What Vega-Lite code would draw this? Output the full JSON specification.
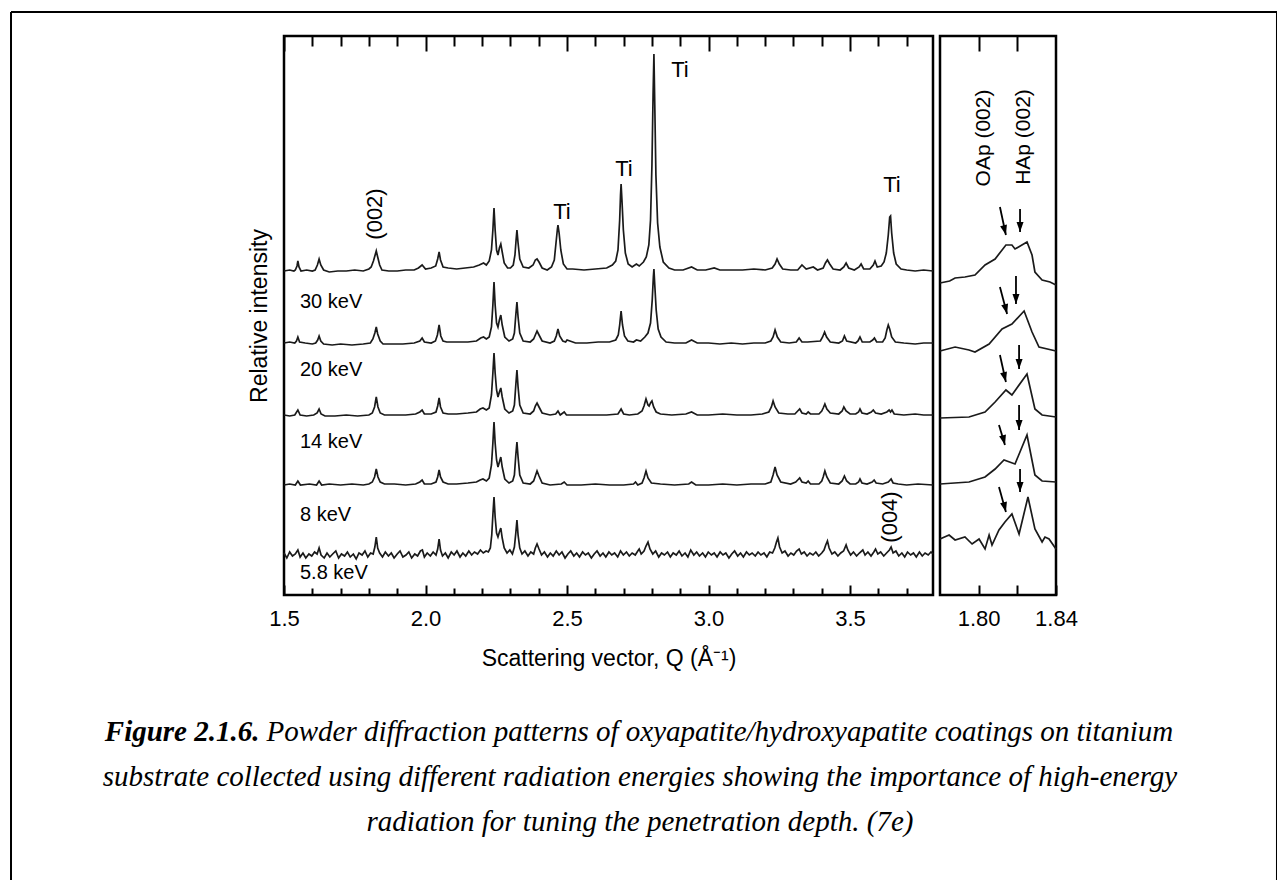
{
"$schema": "https://vega.github.io/schema/vega-lite/v6.json",
"background": "white",
"autosize": {"type": "pad"},
"padding": {"left": 8, "top": 9, "right": 1, "bottom": 0},
"config": {
  "view": {"stroke": "black", "strokeWidth": 2.5},
  "font": "Liberation Sans",
  "text": {"font": "Liberation Sans", "color": "black"}
},
"datasets": {
"L": [
{"s":"30","q":1.5,"i":324},{"s":"30","q":1.52,"i":325},{"s":"30","q":1.535,"i":324},{"s":"30","q":1.54,"i":325},{"s":"30","q":1.546,"i":329},{"s":"30","q":1.549,"i":334},{"s":"30","q":1.553,"i":328},{"s":"30","q":1.56,"i":324},{"s":"30","q":1.58,"i":325},{"s":"30","q":1.6,"i":324},{"s":"30","q":1.61,"i":325},{"s":"30","q":1.618,"i":330},{"s":"30","q":1.624,"i":336},{"s":"30","q":1.63,"i":330},{"s":"30","q":1.64,"i":325},{"s":"30","q":1.66,"i":323},{"s":"30","q":1.69,"i":324},{"s":"30","q":1.72,"i":324},{"s":"30","q":1.75,"i":325},{"s":"30","q":1.78,"i":324},{"s":"30","q":1.8,"i":326},{"s":"30","q":1.808,"i":328},{"s":"30","q":1.816,"i":334},{"s":"30","q":1.822,"i":340},{"s":"30","q":1.826,"i":344},{"s":"30","q":1.831,"i":338},{"s":"30","q":1.838,"i":330},{"s":"30","q":1.846,"i":325},{"s":"30","q":1.87,"i":324},{"s":"30","q":1.9,"i":324},{"s":"30","q":1.93,"i":325},{"s":"30","q":1.96,"i":325},{"s":"30","q":1.975,"i":327},{"s":"30","q":1.988,"i":330},{"s":"30","q":2.0,"i":326},{"s":"30","q":2.02,"i":327},{"s":"30","q":2.036,"i":329},{"s":"30","q":2.043,"i":336},{"s":"30","q":2.048,"i":343},{"s":"30","q":2.053,"i":335},{"s":"30","q":2.062,"i":328},{"s":"30","q":2.08,"i":327},{"s":"30","q":2.11,"i":326},{"s":"30","q":2.14,"i":327},{"s":"30","q":2.17,"i":328},{"s":"30","q":2.19,"i":330},{"s":"30","q":2.205,"i":332},{"s":"30","q":2.215,"i":330},{"s":"30","q":2.225,"i":334},{"s":"30","q":2.233,"i":345},{"s":"30","q":2.238,"i":365},{"s":"30","q":2.242,"i":387},{"s":"30","q":2.246,"i":365},{"s":"30","q":2.251,"i":345},{"s":"30","q":2.256,"i":340},{"s":"30","q":2.261,"i":347},{"s":"30","q":2.266,"i":351},{"s":"30","q":2.271,"i":343},{"s":"30","q":2.278,"i":332},{"s":"30","q":2.29,"i":327},{"s":"30","q":2.3,"i":327},{"s":"30","q":2.31,"i":330},{"s":"30","q":2.316,"i":340},{"s":"30","q":2.32,"i":355},{"s":"30","q":2.323,"i":365},{"s":"30","q":2.327,"i":352},{"s":"30","q":2.333,"i":336},{"s":"30","q":2.345,"i":328},{"s":"30","q":2.365,"i":327},{"s":"30","q":2.38,"i":330},{"s":"30","q":2.388,"i":335},{"s":"30","q":2.394,"i":336},{"s":"30","q":2.401,"i":333},{"s":"30","q":2.412,"i":327},{"s":"30","q":2.43,"i":325},{"s":"30","q":2.445,"i":328},{"s":"30","q":2.455,"i":335},{"s":"30","q":2.461,"i":352},{"s":"30","q":2.466,"i":366},{"s":"30","q":2.468,"i":370},{"s":"30","q":2.472,"i":362},{"s":"30","q":2.478,"i":345},{"s":"30","q":2.487,"i":331},{"s":"30","q":2.5,"i":326},{"s":"30","q":2.52,"i":326},{"s":"30","q":2.56,"i":325},{"s":"30","q":2.6,"i":326},{"s":"30","q":2.64,"i":327},{"s":"30","q":2.66,"i":330},{"s":"30","q":2.672,"i":334},{"s":"30","q":2.68,"i":345},{"s":"30","q":2.686,"i":375},{"s":"30","q":2.689,"i":400},{"s":"30","q":2.691,"i":411},{"s":"30","q":2.694,"i":395},{"s":"30","q":2.699,"i":365},{"s":"30","q":2.706,"i":342},{"s":"30","q":2.716,"i":331},{"s":"30","q":2.73,"i":328},{"s":"30","q":2.745,"i":331},{"s":"30","q":2.755,"i":329},{"s":"30","q":2.77,"i":333},{"s":"30","q":2.78,"i":338},{"s":"30","q":2.789,"i":350},{"s":"30","q":2.795,"i":375},{"s":"30","q":2.8,"i":430},{"s":"30","q":2.804,"i":500},{"s":"30","q":2.807,"i":541},{"s":"30","q":2.81,"i":490},{"s":"30","q":2.814,"i":420},{"s":"30","q":2.82,"i":372},{"s":"30","q":2.828,"i":348},{"s":"30","q":2.84,"i":333},{"s":"30","q":2.86,"i":327},{"s":"30","q":2.88,"i":325},{"s":"30","q":2.91,"i":325},{"s":"30","q":2.94,"i":328},{"s":"30","q":2.96,"i":325},{"s":"30","q":2.99,"i":325},{"s":"30","q":3.02,"i":327},{"s":"30","q":3.04,"i":325},{"s":"30","q":3.08,"i":325},{"s":"30","q":3.12,"i":325},{"s":"30","q":3.16,"i":326},{"s":"30","q":3.2,"i":325},{"s":"30","q":3.225,"i":327},{"s":"30","q":3.235,"i":331},{"s":"30","q":3.242,"i":336},{"s":"30","q":3.25,"i":331},{"s":"30","q":3.262,"i":326},{"s":"30","q":3.29,"i":325},{"s":"30","q":3.315,"i":325},{"s":"30","q":3.33,"i":330},{"s":"30","q":3.345,"i":326},{"s":"30","q":3.37,"i":328},{"s":"30","q":3.385,"i":325},{"s":"30","q":3.405,"i":327},{"s":"30","q":3.413,"i":332},{"s":"30","q":3.42,"i":335},{"s":"30","q":3.428,"i":331},{"s":"30","q":3.44,"i":326},{"s":"30","q":3.465,"i":325},{"s":"30","q":3.478,"i":328},{"s":"30","q":3.486,"i":332},{"s":"30","q":3.495,"i":327},{"s":"30","q":3.515,"i":325},{"s":"30","q":3.532,"i":328},{"s":"30","q":3.539,"i":331},{"s":"30","q":3.548,"i":326},{"s":"30","q":3.57,"i":326},{"s":"30","q":3.582,"i":330},{"s":"30","q":3.588,"i":334},{"s":"30","q":3.596,"i":328},{"s":"30","q":3.61,"i":329},{"s":"30","q":3.62,"i":333},{"s":"30","q":3.628,"i":342},{"s":"30","q":3.635,"i":360},{"s":"30","q":3.64,"i":378},{"s":"30","q":3.643,"i":379},{"s":"30","q":3.647,"i":362},{"s":"30","q":3.654,"i":342},{"s":"30","q":3.663,"i":331},{"s":"30","q":3.68,"i":326},{"s":"30","q":3.7,"i":325},{"s":"30","q":3.73,"i":324},{"s":"30","q":3.76,"i":325},{"s":"30","q":3.793,"i":324},
{"s":"20","q":1.5,"i":252},{"s":"20","q":1.52,"i":253},{"s":"20","q":1.538,"i":252},{"s":"20","q":1.544,"i":254},{"s":"20","q":1.549,"i":258},{"s":"20","q":1.555,"i":253},{"s":"20","q":1.575,"i":252},{"s":"20","q":1.6,"i":251},{"s":"20","q":1.612,"i":252},{"s":"20","q":1.619,"i":255},{"s":"20","q":1.624,"i":259},{"s":"20","q":1.63,"i":254},{"s":"20","q":1.64,"i":251},{"s":"20","q":1.67,"i":250},{"s":"20","q":1.7,"i":251},{"s":"20","q":1.74,"i":250},{"s":"20","q":1.78,"i":251},{"s":"20","q":1.805,"i":252},{"s":"20","q":1.814,"i":256},{"s":"20","q":1.821,"i":262},{"s":"20","q":1.826,"i":268},{"s":"20","q":1.831,"i":261},{"s":"20","q":1.84,"i":254},{"s":"20","q":1.85,"i":251},{"s":"20","q":1.88,"i":251},{"s":"20","q":1.92,"i":251},{"s":"20","q":1.96,"i":252},{"s":"20","q":1.98,"i":254},{"s":"20","q":1.988,"i":257},{"s":"20","q":1.996,"i":253},{"s":"20","q":2.02,"i":252},{"s":"20","q":2.035,"i":254},{"s":"20","q":2.042,"i":260},{"s":"20","q":2.048,"i":270},{"s":"20","q":2.054,"i":259},{"s":"20","q":2.062,"i":254},{"s":"20","q":2.075,"i":253},{"s":"20","q":2.11,"i":253},{"s":"20","q":2.15,"i":253},{"s":"20","q":2.18,"i":254},{"s":"20","q":2.195,"i":257},{"s":"20","q":2.205,"i":258},{"s":"20","q":2.215,"i":256},{"s":"20","q":2.225,"i":258},{"s":"20","q":2.233,"i":268},{"s":"20","q":2.238,"i":290},{"s":"20","q":2.242,"i":313},{"s":"20","q":2.246,"i":290},{"s":"20","q":2.251,"i":272},{"s":"20","q":2.256,"i":268},{"s":"20","q":2.261,"i":275},{"s":"20","q":2.266,"i":280},{"s":"20","q":2.271,"i":270},{"s":"20","q":2.28,"i":258},{"s":"20","q":2.295,"i":254},{"s":"20","q":2.308,"i":256},{"s":"20","q":2.314,"i":262},{"s":"20","q":2.319,"i":280},{"s":"20","q":2.323,"i":293},{"s":"20","q":2.327,"i":278},{"s":"20","q":2.333,"i":262},{"s":"20","q":2.345,"i":254},{"s":"20","q":2.37,"i":253},{"s":"20","q":2.382,"i":256},{"s":"20","q":2.388,"i":260},{"s":"20","q":2.394,"i":264},{"s":"20","q":2.401,"i":260},{"s":"20","q":2.412,"i":254},{"s":"20","q":2.44,"i":252},{"s":"20","q":2.455,"i":254},{"s":"20","q":2.462,"i":259},{"s":"20","q":2.468,"i":266},{"s":"20","q":2.474,"i":259},{"s":"20","q":2.485,"i":254},{"s":"20","q":2.495,"i":253},{"s":"20","q":2.5,"i":255},{"s":"20","q":2.53,"i":252},{"s":"20","q":2.57,"i":252},{"s":"20","q":2.61,"i":253},{"s":"20","q":2.65,"i":253},{"s":"20","q":2.672,"i":255},{"s":"20","q":2.681,"i":260},{"s":"20","q":2.686,"i":270},{"s":"20","q":2.691,"i":284},{"s":"20","q":2.696,"i":270},{"s":"20","q":2.703,"i":259},{"s":"20","q":2.715,"i":254},{"s":"20","q":2.735,"i":253},{"s":"20","q":2.745,"i":255},{"s":"20","q":2.76,"i":254},{"s":"20","q":2.775,"i":258},{"s":"20","q":2.786,"i":262},{"s":"20","q":2.795,"i":272},{"s":"20","q":2.801,"i":295},{"s":"20","q":2.805,"i":318},{"s":"20","q":2.807,"i":326},{"s":"20","q":2.81,"i":310},{"s":"20","q":2.815,"i":285},{"s":"20","q":2.822,"i":266},{"s":"20","q":2.832,"i":258},{"s":"20","q":2.85,"i":253},{"s":"20","q":2.88,"i":252},{"s":"20","q":2.92,"i":252},{"s":"20","q":2.94,"i":255},{"s":"20","q":2.96,"i":252},{"s":"20","q":3.0,"i":252},{"s":"20","q":3.04,"i":251},{"s":"20","q":3.08,"i":252},{"s":"20","q":3.12,"i":251},{"s":"20","q":3.16,"i":252},{"s":"20","q":3.2,"i":252},{"s":"20","q":3.22,"i":254},{"s":"20","q":3.228,"i":258},{"s":"20","q":3.235,"i":265},{"s":"20","q":3.243,"i":258},{"s":"20","q":3.255,"i":253},{"s":"20","q":3.285,"i":252},{"s":"20","q":3.31,"i":253},{"s":"20","q":3.32,"i":257},{"s":"20","q":3.33,"i":253},{"s":"20","q":3.35,"i":253},{"s":"20","q":3.395,"i":254},{"s":"20","q":3.403,"i":258},{"s":"20","q":3.41,"i":263},{"s":"20","q":3.417,"i":258},{"s":"20","q":3.43,"i":253},{"s":"20","q":3.46,"i":252},{"s":"20","q":3.473,"i":254},{"s":"20","q":3.48,"i":259},{"s":"20","q":3.488,"i":254},{"s":"20","q":3.52,"i":252},{"s":"20","q":3.528,"i":254},{"s":"20","q":3.535,"i":258},{"s":"20","q":3.543,"i":253},{"s":"20","q":3.57,"i":253},{"s":"20","q":3.58,"i":255},{"s":"20","q":3.586,"i":257},{"s":"20","q":3.594,"i":253},{"s":"20","q":3.615,"i":253},{"s":"20","q":3.624,"i":257},{"s":"20","q":3.63,"i":265},{"s":"20","q":3.635,"i":270},{"s":"20","q":3.64,"i":266},{"s":"20","q":3.647,"i":258},{"s":"20","q":3.66,"i":253},{"s":"20","q":3.69,"i":252},{"s":"20","q":3.73,"i":251},{"s":"20","q":3.76,"i":252},{"s":"20","q":3.793,"i":252},
{"s":"14","q":1.5,"i":180},{"s":"14","q":1.52,"i":179},{"s":"14","q":1.538,"i":180},{"s":"14","q":1.549,"i":185},{"s":"14","q":1.557,"i":180},{"s":"14","q":1.58,"i":179},{"s":"14","q":1.605,"i":180},{"s":"14","q":1.617,"i":182},{"s":"14","q":1.624,"i":186},{"s":"14","q":1.631,"i":181},{"s":"14","q":1.645,"i":179},{"s":"14","q":1.68,"i":179},{"s":"14","q":1.72,"i":180},{"s":"14","q":1.76,"i":179},{"s":"14","q":1.8,"i":180},{"s":"14","q":1.812,"i":182},{"s":"14","q":1.82,"i":188},{"s":"14","q":1.826,"i":198},{"s":"14","q":1.832,"i":188},{"s":"14","q":1.84,"i":182},{"s":"14","q":1.855,"i":180},{"s":"14","q":1.89,"i":180},{"s":"14","q":1.93,"i":180},{"s":"14","q":1.965,"i":181},{"s":"14","q":1.98,"i":183},{"s":"14","q":1.988,"i":185},{"s":"14","q":1.996,"i":181},{"s":"14","q":2.02,"i":181},{"s":"14","q":2.037,"i":183},{"s":"14","q":2.043,"i":189},{"s":"14","q":2.048,"i":197},{"s":"14","q":2.053,"i":188},{"s":"14","q":2.062,"i":182},{"s":"14","q":2.08,"i":181},{"s":"14","q":2.11,"i":181},{"s":"14","q":2.15,"i":182},{"s":"14","q":2.18,"i":183},{"s":"14","q":2.193,"i":186},{"s":"14","q":2.203,"i":187},{"s":"14","q":2.215,"i":185},{"s":"14","q":2.225,"i":187},{"s":"14","q":2.233,"i":200},{"s":"14","q":2.238,"i":222},{"s":"14","q":2.242,"i":242},{"s":"14","q":2.246,"i":222},{"s":"14","q":2.251,"i":205},{"s":"14","q":2.256,"i":198},{"s":"14","q":2.261,"i":203},{"s":"14","q":2.266,"i":207},{"s":"14","q":2.271,"i":198},{"s":"14","q":2.28,"i":186},{"s":"14","q":2.295,"i":182},{"s":"14","q":2.308,"i":184},{"s":"14","q":2.314,"i":190},{"s":"14","q":2.319,"i":210},{"s":"14","q":2.323,"i":225},{"s":"14","q":2.327,"i":208},{"s":"14","q":2.333,"i":190},{"s":"14","q":2.345,"i":182},{"s":"14","q":2.37,"i":181},{"s":"14","q":2.382,"i":184},{"s":"14","q":2.388,"i":189},{"s":"14","q":2.394,"i":192},{"s":"14","q":2.401,"i":188},{"s":"14","q":2.412,"i":182},{"s":"14","q":2.44,"i":180},{"s":"14","q":2.46,"i":181},{"s":"14","q":2.468,"i":184},{"s":"14","q":2.476,"i":180},{"s":"14","q":2.49,"i":183},{"s":"14","q":2.498,"i":180},{"s":"14","q":2.54,"i":180},{"s":"14","q":2.59,"i":180},{"s":"14","q":2.64,"i":180},{"s":"14","q":2.68,"i":181},{"s":"14","q":2.691,"i":186},{"s":"14","q":2.7,"i":181},{"s":"14","q":2.72,"i":180},{"s":"14","q":2.75,"i":181},{"s":"14","q":2.765,"i":184},{"s":"14","q":2.772,"i":189},{"s":"14","q":2.779,"i":196},{"s":"14","q":2.786,"i":190},{"s":"14","q":2.79,"i":189},{"s":"14","q":2.795,"i":192},{"s":"14","q":2.8,"i":194},{"s":"14","q":2.806,"i":188},{"s":"14","q":2.815,"i":183},{"s":"14","q":2.83,"i":181},{"s":"14","q":2.87,"i":180},{"s":"14","q":2.92,"i":181},{"s":"14","q":2.94,"i":183},{"s":"14","q":2.96,"i":180},{"s":"14","q":3.0,"i":180},{"s":"14","q":3.05,"i":181},{"s":"14","q":3.1,"i":180},{"s":"14","q":3.15,"i":180},{"s":"14","q":3.19,"i":181},{"s":"14","q":3.213,"i":183},{"s":"14","q":3.222,"i":188},{"s":"14","q":3.228,"i":194},{"s":"14","q":3.235,"i":188},{"s":"14","q":3.248,"i":182},{"s":"14","q":3.28,"i":181},{"s":"14","q":3.305,"i":181},{"s":"14","q":3.315,"i":184},{"s":"14","q":3.322,"i":186},{"s":"14","q":3.33,"i":182},{"s":"14","q":3.345,"i":181},{"s":"14","q":3.352,"i":183},{"s":"14","q":3.36,"i":181},{"s":"14","q":3.39,"i":181},{"s":"14","q":3.4,"i":184},{"s":"14","q":3.405,"i":187},{"s":"14","q":3.411,"i":191},{"s":"14","q":3.418,"i":186},{"s":"14","q":3.43,"i":182},{"s":"14","q":3.46,"i":181},{"s":"14","q":3.472,"i":184},{"s":"14","q":3.478,"i":188},{"s":"14","q":3.486,"i":184},{"s":"14","q":3.5,"i":181},{"s":"14","q":3.52,"i":181},{"s":"14","q":3.53,"i":183},{"s":"14","q":3.535,"i":186},{"s":"14","q":3.542,"i":182},{"s":"14","q":3.56,"i":181},{"s":"14","q":3.575,"i":183},{"s":"14","q":3.582,"i":185},{"s":"14","q":3.59,"i":182},{"s":"14","q":3.61,"i":181},{"s":"14","q":3.63,"i":183},{"s":"14","q":3.638,"i":185},{"s":"14","q":3.643,"i":183},{"s":"14","q":3.648,"i":185},{"s":"14","q":3.656,"i":181},{"s":"14","q":3.69,"i":180},{"s":"14","q":3.73,"i":181},{"s":"14","q":3.76,"i":180},{"s":"14","q":3.793,"i":180},
{"s":"8","q":1.5,"i":110},{"s":"8","q":1.52,"i":111},{"s":"8","q":1.54,"i":110},{"s":"8","q":1.549,"i":114},{"s":"8","q":1.558,"i":110},{"s":"8","q":1.59,"i":111},{"s":"8","q":1.615,"i":110},{"s":"8","q":1.624,"i":114},{"s":"8","q":1.633,"i":110},{"s":"8","q":1.66,"i":111},{"s":"8","q":1.7,"i":110},{"s":"8","q":1.74,"i":111},{"s":"8","q":1.78,"i":110},{"s":"8","q":1.8,"i":111},{"s":"8","q":1.812,"i":113},{"s":"8","q":1.82,"i":118},{"s":"8","q":1.826,"i":126},{"s":"8","q":1.832,"i":118},{"s":"8","q":1.84,"i":113},{"s":"8","q":1.855,"i":111},{"s":"8","q":1.89,"i":111},{"s":"8","q":1.93,"i":110},{"s":"8","q":1.965,"i":111},{"s":"8","q":1.98,"i":113},{"s":"8","q":1.988,"i":115},{"s":"8","q":1.996,"i":111},{"s":"8","q":2.02,"i":111},{"s":"8","q":2.037,"i":113},{"s":"8","q":2.043,"i":118},{"s":"8","q":2.048,"i":125},{"s":"8","q":2.053,"i":118},{"s":"8","q":2.062,"i":113},{"s":"8","q":2.08,"i":111},{"s":"8","q":2.11,"i":111},{"s":"8","q":2.15,"i":112},{"s":"8","q":2.18,"i":113},{"s":"8","q":2.193,"i":115},{"s":"8","q":2.203,"i":116},{"s":"8","q":2.215,"i":114},{"s":"8","q":2.225,"i":117},{"s":"8","q":2.233,"i":130},{"s":"8","q":2.238,"i":152},{"s":"8","q":2.242,"i":173},{"s":"8","q":2.246,"i":152},{"s":"8","q":2.251,"i":135},{"s":"8","q":2.256,"i":128},{"s":"8","q":2.261,"i":133},{"s":"8","q":2.266,"i":138},{"s":"8","q":2.271,"i":128},{"s":"8","q":2.28,"i":116},{"s":"8","q":2.295,"i":112},{"s":"8","q":2.308,"i":114},{"s":"8","q":2.314,"i":120},{"s":"8","q":2.319,"i":140},{"s":"8","q":2.323,"i":153},{"s":"8","q":2.327,"i":138},{"s":"8","q":2.333,"i":120},{"s":"8","q":2.345,"i":112},{"s":"8","q":2.37,"i":111},{"s":"8","q":2.382,"i":114},{"s":"8","q":2.388,"i":119},{"s":"8","q":2.394,"i":124},{"s":"8","q":2.401,"i":119},{"s":"8","q":2.412,"i":112},{"s":"8","q":2.44,"i":110},{"s":"8","q":2.48,"i":111},{"s":"8","q":2.49,"i":113},{"s":"8","q":2.5,"i":110},{"s":"8","q":2.55,"i":110},{"s":"8","q":2.6,"i":111},{"s":"8","q":2.65,"i":110},{"s":"8","q":2.7,"i":110},{"s":"8","q":2.735,"i":111},{"s":"8","q":2.742,"i":113},{"s":"8","q":2.75,"i":110},{"s":"8","q":2.765,"i":112},{"s":"8","q":2.772,"i":117},{"s":"8","q":2.779,"i":124},{"s":"8","q":2.786,"i":117},{"s":"8","q":2.798,"i":112},{"s":"8","q":2.83,"i":111},{"s":"8","q":2.88,"i":110},{"s":"8","q":2.93,"i":111},{"s":"8","q":2.94,"i":113},{"s":"8","q":2.955,"i":110},{"s":"8","q":3.0,"i":110},{"s":"8","q":3.05,"i":111},{"s":"8","q":3.1,"i":110},{"s":"8","q":3.15,"i":111},{"s":"8","q":3.2,"i":111},{"s":"8","q":3.22,"i":113},{"s":"8","q":3.228,"i":120},{"s":"8","q":3.235,"i":128},{"s":"8","q":3.242,"i":120},{"s":"8","q":3.255,"i":113},{"s":"8","q":3.29,"i":111},{"s":"8","q":3.308,"i":113},{"s":"8","q":3.315,"i":115},{"s":"8","q":3.322,"i":117},{"s":"8","q":3.33,"i":113},{"s":"8","q":3.345,"i":112},{"s":"8","q":3.352,"i":114},{"s":"8","q":3.36,"i":111},{"s":"8","q":3.39,"i":111},{"s":"8","q":3.4,"i":114},{"s":"8","q":3.405,"i":118},{"s":"8","q":3.411,"i":124},{"s":"8","q":3.418,"i":118},{"s":"8","q":3.43,"i":112},{"s":"8","q":3.46,"i":111},{"s":"8","q":3.472,"i":114},{"s":"8","q":3.48,"i":119},{"s":"8","q":3.488,"i":114},{"s":"8","q":3.5,"i":111},{"s":"8","q":3.52,"i":111},{"s":"8","q":3.53,"i":113},{"s":"8","q":3.535,"i":116},{"s":"8","q":3.542,"i":112},{"s":"8","q":3.56,"i":111},{"s":"8","q":3.578,"i":113},{"s":"8","q":3.585,"i":115},{"s":"8","q":3.592,"i":112},{"s":"8","q":3.615,"i":111},{"s":"8","q":3.635,"i":113},{"s":"8","q":3.645,"i":116},{"s":"8","q":3.652,"i":112},{"s":"8","q":3.67,"i":111},{"s":"8","q":3.7,"i":110},{"s":"8","q":3.74,"i":111},{"s":"8","q":3.793,"i":110},
{"s":"5.8","q":1.5,"i":42},{"s":"5.8","q":1.51,"i":37},{"s":"5.8","q":1.52,"i":43},{"s":"5.8","q":1.53,"i":39},{"s":"5.8","q":1.54,"i":41},{"s":"5.8","q":1.549,"i":45},{"s":"5.8","q":1.557,"i":38},{"s":"5.8","q":1.567,"i":42},{"s":"5.8","q":1.577,"i":37},{"s":"5.8","q":1.588,"i":41},{"s":"5.8","q":1.598,"i":39},{"s":"5.8","q":1.608,"i":43},{"s":"5.8","q":1.617,"i":41},{"s":"5.8","q":1.624,"i":47},{"s":"5.8","q":1.631,"i":40},{"s":"5.8","q":1.642,"i":37},{"s":"5.8","q":1.652,"i":42},{"s":"5.8","q":1.662,"i":38},{"s":"5.8","q":1.672,"i":41},{"s":"5.8","q":1.683,"i":44},{"s":"5.8","q":1.693,"i":37},{"s":"5.8","q":1.703,"i":41},{"s":"5.8","q":1.714,"i":39},{"s":"5.8","q":1.724,"i":43},{"s":"5.8","q":1.734,"i":38},{"s":"5.8","q":1.745,"i":41},{"s":"5.8","q":1.755,"i":36},{"s":"5.8","q":1.765,"i":42},{"s":"5.8","q":1.776,"i":40},{"s":"5.8","q":1.786,"i":44},{"s":"5.8","q":1.796,"i":38},{"s":"5.8","q":1.806,"i":42},{"s":"5.8","q":1.815,"i":41},{"s":"5.8","q":1.821,"i":48},{"s":"5.8","q":1.826,"i":58},{"s":"5.8","q":1.831,"i":47},{"s":"5.8","q":1.838,"i":42},{"s":"5.8","q":1.848,"i":38},{"s":"5.8","q":1.858,"i":43},{"s":"5.8","q":1.869,"i":39},{"s":"5.8","q":1.879,"i":42},{"s":"5.8","q":1.889,"i":37},{"s":"5.8","q":1.9,"i":41},{"s":"5.8","q":1.91,"i":44},{"s":"5.8","q":1.92,"i":38},{"s":"5.8","q":1.931,"i":40},{"s":"5.8","q":1.941,"i":43},{"s":"5.8","q":1.951,"i":37},{"s":"5.8","q":1.962,"i":41},{"s":"5.8","q":1.972,"i":39},{"s":"5.8","q":1.982,"i":44},{"s":"5.8","q":1.989,"i":45},{"s":"5.8","q":1.996,"i":38},{"s":"5.8","q":2.006,"i":42},{"s":"5.8","q":2.017,"i":39},{"s":"5.8","q":2.027,"i":43},{"s":"5.8","q":2.037,"i":40},{"s":"5.8","q":2.043,"i":46},{"s":"5.8","q":2.048,"i":56},{"s":"5.8","q":2.053,"i":45},{"s":"5.8","q":2.06,"i":39},{"s":"5.8","q":2.07,"i":42},{"s":"5.8","q":2.08,"i":37},{"s":"5.8","q":2.091,"i":43},{"s":"5.8","q":2.101,"i":40},{"s":"5.8","q":2.111,"i":44},{"s":"5.8","q":2.122,"i":38},{"s":"5.8","q":2.132,"i":42},{"s":"5.8","q":2.142,"i":39},{"s":"5.8","q":2.153,"i":44},{"s":"5.8","q":2.163,"i":40},{"s":"5.8","q":2.173,"i":43},{"s":"5.8","q":2.184,"i":41},{"s":"5.8","q":2.194,"i":45},{"s":"5.8","q":2.204,"i":42},{"s":"5.8","q":2.214,"i":44},{"s":"5.8","q":2.222,"i":43},{"s":"5.8","q":2.229,"i":47},{"s":"5.8","q":2.234,"i":60},{"s":"5.8","q":2.238,"i":80},{"s":"5.8","q":2.242,"i":98},{"s":"5.8","q":2.246,"i":78},{"s":"5.8","q":2.251,"i":62},{"s":"5.8","q":2.256,"i":58},{"s":"5.8","q":2.261,"i":63},{"s":"5.8","q":2.266,"i":67},{"s":"5.8","q":2.271,"i":57},{"s":"5.8","q":2.278,"i":47},{"s":"5.8","q":2.288,"i":42},{"s":"5.8","q":2.298,"i":45},{"s":"5.8","q":2.307,"i":41},{"s":"5.8","q":2.314,"i":48},{"s":"5.8","q":2.319,"i":62},{"s":"5.8","q":2.323,"i":75},{"s":"5.8","q":2.327,"i":60},{"s":"5.8","q":2.333,"i":47},{"s":"5.8","q":2.341,"i":41},{"s":"5.8","q":2.351,"i":44},{"s":"5.8","q":2.362,"i":39},{"s":"5.8","q":2.372,"i":43},{"s":"5.8","q":2.382,"i":41},{"s":"5.8","q":2.388,"i":47},{"s":"5.8","q":2.394,"i":51},{"s":"5.8","q":2.401,"i":46},{"s":"5.8","q":2.41,"i":40},{"s":"5.8","q":2.42,"i":43},{"s":"5.8","q":2.431,"i":38},{"s":"5.8","q":2.441,"i":42},{"s":"5.8","q":2.451,"i":39},{"s":"5.8","q":2.462,"i":44},{"s":"5.8","q":2.472,"i":40},{"s":"5.8","q":2.482,"i":43},{"s":"5.8","q":2.493,"i":37},{"s":"5.8","q":2.503,"i":41},{"s":"5.8","q":2.513,"i":44},{"s":"5.8","q":2.524,"i":39},{"s":"5.8","q":2.534,"i":42},{"s":"5.8","q":2.544,"i":38},{"s":"5.8","q":2.555,"i":43},{"s":"5.8","q":2.565,"i":40},{"s":"5.8","q":2.575,"i":42},{"s":"5.8","q":2.586,"i":37},{"s":"5.8","q":2.596,"i":41},{"s":"5.8","q":2.606,"i":44},{"s":"5.8","q":2.617,"i":39},{"s":"5.8","q":2.627,"i":42},{"s":"5.8","q":2.637,"i":38},{"s":"5.8","q":2.648,"i":43},{"s":"5.8","q":2.658,"i":40},{"s":"5.8","q":2.668,"i":42},{"s":"5.8","q":2.679,"i":38},{"s":"5.8","q":2.689,"i":44},{"s":"5.8","q":2.699,"i":40},{"s":"5.8","q":2.71,"i":43},{"s":"5.8","q":2.72,"i":39},{"s":"5.8","q":2.73,"i":42},{"s":"5.8","q":2.741,"i":40},{"s":"5.8","q":2.75,"i":44},{"s":"5.8","q":2.755,"i":46},{"s":"5.8","q":2.762,"i":41},{"s":"5.8","q":2.772,"i":44},{"s":"5.8","q":2.779,"i":49},{"s":"5.8","q":2.786,"i":53},{"s":"5.8","q":2.793,"i":46},{"s":"5.8","q":2.803,"i":41},{"s":"5.8","q":2.813,"i":44},{"s":"5.8","q":2.824,"i":38},{"s":"5.8","q":2.834,"i":42},{"s":"5.8","q":2.844,"i":40},{"s":"5.8","q":2.855,"i":43},{"s":"5.8","q":2.865,"i":38},{"s":"5.8","q":2.875,"i":42},{"s":"5.8","q":2.886,"i":40},{"s":"5.8","q":2.896,"i":44},{"s":"5.8","q":2.906,"i":39},{"s":"5.8","q":2.917,"i":42},{"s":"5.8","q":2.927,"i":38},{"s":"5.8","q":2.937,"i":45},{"s":"5.8","q":2.948,"i":40},{"s":"5.8","q":2.958,"i":43},{"s":"5.8","q":2.968,"i":39},{"s":"5.8","q":2.979,"i":42},{"s":"5.8","q":2.989,"i":38},{"s":"5.8","q":2.999,"i":43},{"s":"5.8","q":3.01,"i":40},{"s":"5.8","q":3.02,"i":42},{"s":"5.8","q":3.03,"i":38},{"s":"5.8","q":3.041,"i":43},{"s":"5.8","q":3.051,"i":40},{"s":"5.8","q":3.061,"i":42},{"s":"5.8","q":3.072,"i":37},{"s":"5.8","q":3.082,"i":41},{"s":"5.8","q":3.092,"i":44},{"s":"5.8","q":3.103,"i":39},{"s":"5.8","q":3.113,"i":42},{"s":"5.8","q":3.123,"i":38},{"s":"5.8","q":3.134,"i":43},{"s":"5.8","q":3.144,"i":40},{"s":"5.8","q":3.154,"i":42},{"s":"5.8","q":3.165,"i":39},{"s":"5.8","q":3.175,"i":43},{"s":"5.8","q":3.185,"i":40},{"s":"5.8","q":3.196,"i":42},{"s":"5.8","q":3.206,"i":38},{"s":"5.8","q":3.216,"i":43},{"s":"5.8","q":3.226,"i":42},{"s":"5.8","q":3.234,"i":47},{"s":"5.8","q":3.24,"i":53},{"s":"5.8","q":3.245,"i":57},{"s":"5.8","q":3.251,"i":48},{"s":"5.8","q":3.26,"i":42},{"s":"5.8","q":3.27,"i":44},{"s":"5.8","q":3.281,"i":39},{"s":"5.8","q":3.291,"i":42},{"s":"5.8","q":3.301,"i":40},{"s":"5.8","q":3.311,"i":44},{"s":"5.8","q":3.32,"i":46},{"s":"5.8","q":3.328,"i":41},{"s":"5.8","q":3.338,"i":43},{"s":"5.8","q":3.348,"i":39},{"s":"5.8","q":3.358,"i":42},{"s":"5.8","q":3.369,"i":40},{"s":"5.8","q":3.379,"i":43},{"s":"5.8","q":3.389,"i":39},{"s":"5.8","q":3.4,"i":42},{"s":"5.8","q":3.408,"i":45},{"s":"5.8","q":3.414,"i":50},{"s":"5.8","q":3.42,"i":54},{"s":"5.8","q":3.426,"i":47},{"s":"5.8","q":3.436,"i":41},{"s":"5.8","q":3.446,"i":43},{"s":"5.8","q":3.457,"i":39},{"s":"5.8","q":3.467,"i":42},{"s":"5.8","q":3.477,"i":44},{"s":"5.8","q":3.486,"i":50},{"s":"5.8","q":3.492,"i":45},{"s":"5.8","q":3.502,"i":40},{"s":"5.8","q":3.512,"i":43},{"s":"5.8","q":3.523,"i":39},{"s":"5.8","q":3.533,"i":42},{"s":"5.8","q":3.545,"i":45},{"s":"5.8","q":3.553,"i":40},{"s":"5.8","q":3.563,"i":43},{"s":"5.8","q":3.574,"i":39},{"s":"5.8","q":3.584,"i":43},{"s":"5.8","q":3.59,"i":46},{"s":"5.8","q":3.598,"i":41},{"s":"5.8","q":3.608,"i":43},{"s":"5.8","q":3.619,"i":39},{"s":"5.8","q":3.629,"i":42},{"s":"5.8","q":3.639,"i":45},{"s":"5.8","q":3.645,"i":48},{"s":"5.8","q":3.652,"i":42},{"s":"5.8","q":3.662,"i":44},{"s":"5.8","q":3.672,"i":39},{"s":"5.8","q":3.683,"i":42},{"s":"5.8","q":3.693,"i":38},{"s":"5.8","q":3.703,"i":43},{"s":"5.8","q":3.714,"i":40},{"s":"5.8","q":3.724,"i":42},{"s":"5.8","q":3.734,"i":38},{"s":"5.8","q":3.745,"i":43},{"s":"5.8","q":3.755,"i":39},{"s":"5.8","q":3.765,"i":42},{"s":"5.8","q":3.776,"i":40},{"s":"5.8","q":3.786,"i":43},{"s":"5.8","q":3.793,"i":41}
],
"R": [
{"s":"30","q":1.78,"i":312},{"s":"30","q":1.785,"i":314},{"s":"30","q":1.7878,"i":317},{"s":"30","q":1.7929,"i":318},{"s":"30","q":1.7981,"i":320},{"s":"30","q":1.8033,"i":330},{"s":"30","q":1.8085,"i":336},{"s":"30","q":1.8141,"i":350},{"s":"30","q":1.8172,"i":350},{"s":"30","q":1.8188,"i":346},{"s":"30","q":1.825,"i":353},{"s":"30","q":1.8276,"i":340},{"s":"30","q":1.8291,"i":323},{"s":"30","q":1.8328,"i":315},{"s":"30","q":1.8369,"i":313},{"s":"30","q":1.84,"i":310},
{"s":"20","q":1.78,"i":244},{"s":"20","q":1.7878,"i":248},{"s":"20","q":1.795,"i":245},{"s":"20","q":1.7981,"i":243},{"s":"20","q":1.8054,"i":251},{"s":"20","q":1.8121,"i":266},{"s":"20","q":1.8172,"i":271},{"s":"20","q":1.8235,"i":284},{"s":"20","q":1.8276,"i":263},{"s":"20","q":1.8312,"i":248},{"s":"20","q":1.84,"i":244},
{"s":"14","q":1.78,"i":177},{"s":"14","q":1.795,"i":178},{"s":"14","q":1.8033,"i":183},{"s":"14","q":1.8085,"i":193},{"s":"14","q":1.8141,"i":205},{"s":"14","q":1.8172,"i":200},{"s":"14","q":1.825,"i":221},{"s":"14","q":1.8291,"i":186},{"s":"14","q":1.8328,"i":180},{"s":"14","q":1.84,"i":178},
{"s":"8","q":1.78,"i":111},{"s":"8","q":1.795,"i":113},{"s":"8","q":1.8033,"i":118},{"s":"8","q":1.8085,"i":126},{"s":"8","q":1.8131,"i":135},{"s":"8","q":1.8188,"i":131},{"s":"8","q":1.825,"i":160},{"s":"8","q":1.8291,"i":120},{"s":"8","q":1.8328,"i":114},{"s":"8","q":1.84,"i":113},
{"s":"5.8","q":1.78,"i":56},{"s":"5.8","q":1.7847,"i":60},{"s":"5.8","q":1.7878,"i":55},{"s":"5.8","q":1.7929,"i":58},{"s":"5.8","q":1.7966,"i":51},{"s":"5.8","q":1.8002,"i":56},{"s":"5.8","q":1.8033,"i":46},{"s":"5.8","q":1.8054,"i":60},{"s":"5.8","q":1.8069,"i":50},{"s":"5.8","q":1.8105,"i":65},{"s":"5.8","q":1.8136,"i":73},{"s":"5.8","q":1.8172,"i":81},{"s":"5.8","q":1.8209,"i":61},{"s":"5.8","q":1.8255,"i":98},{"s":"5.8","q":1.8291,"i":66},{"s":"5.8","q":1.8328,"i":53},{"s":"5.8","q":1.8343,"i":58},{"s":"5.8","q":1.8364,"i":56},{"s":"5.8","q":1.84,"i":46}
],
"ar": [
{"s":"30","k":"OAp","q":1.811,"i":388,"q2":1.8141,"i2":360},{"s":"30","k":"HAp","q":1.8214,"i":386,"q2":1.8214,"i2":363},
{"s":"20","k":"OAp","q":1.811,"i":308,"q2":1.8147,"i2":281},{"s":"20","k":"HAp","q":1.8193,"i":319,"q2":1.8193,"i2":291},
{"s":"14","k":"OAp","q":1.811,"i":240,"q2":1.8141,"i2":213},{"s":"14","k":"HAp","q":1.8209,"i":250,"q2":1.8209,"i2":226},
{"s":"8","k":"OAp","q":1.8105,"i":170,"q2":1.8136,"i2":150},{"s":"8","k":"HAp","q":1.8209,"i":190,"q2":1.8209,"i2":165},
{"s":"5.8","k":"OAp","q":1.8105,"i":108,"q2":1.8141,"i2":83},{"s":"5.8","k":"HAp","q":1.8214,"i":126,"q2":1.8214,"i2":103}
],
"ti": [{"t":"Ti","q":2.482,"i":383},{"t":"Ti","q":2.701,"i":426},{"t":"Ti","q":2.899,"i":525},{"t":"Ti","q":3.648,"i":410}],
"ev": [{"t":"30 keV","q":1.5565,"i":293.5},{"t":"20 keV","q":1.5565,"i":225.5},{"t":"14 keV","q":1.5565,"i":153.5},{"t":"8 keV","q":1.5565,"i":80.5},{"t":"5.8 keV","q":1.5565,"i":22.5}],
"rot": [{"t":"(002)","q":1.822,"i":381},{"t":"(004)","q":3.641,"i":78}],
"rr": [{"t":"OAp (002)","q":1.8028,"i":457},{"t":"HAp (002)","q":1.8235,"i":458}]
},
"spacing": 7,
"bounds": "flush",
"hconcat": [
{
  "width": 649, "height": 559,
  "resolve": {"axis": {"x": "independent", "y": "independent"}},
  "layer": [
    {
      "data": {"name": "L"},
      "mark": {"type": "line", "color": "#1a1a1a", "strokeWidth": 1.7},
      "encoding": {
        "x": {"field": "q", "type": "quantitative", "scale": {"domain": [1.5, 3.793], "nice": false, "zero": false},
          "axis": {"orient": "bottom", "values": [1.5,1.6,1.7,1.8,1.9,2.0,2.1,2.2,2.3,2.4,2.5,2.6,2.7,2.8,2.9,3.0,3.1,3.2,3.3,3.4,3.5,3.6,3.7],
            "domain": false, "grid": false, "tickColor": "black", "tickWidth": 2,
            "tickSize": {"condition": {"test": "abs(datum.value*2-round(datum.value*2))<0.001", "value": -10}, "value": -7},
            "labelExpr": "abs(datum.value*2-round(datum.value*2))<0.001 ? format(datum.value,'.1f') : ''",
            "labelFontSize": 22, "labelColor": "black", "labelPadding": 23, "labelFlush": false, "labelOverlap": false, "labelBound": false,
            "title": "Scattering vector, Q (Å⁻¹)", "titleFontSize": 23, "titleFontWeight": "normal", "titleColor": "black", "titlePadding": 15}},
        "y": {"field": "i", "type": "quantitative", "scale": {"domain": [0, 559], "nice": false, "zero": false},
          "axis": {"orient": "left", "domain": false, "ticks": false, "labels": false, "grid": false,
            "title": "Relative intensity", "titleFontSize": 23, "titleFontWeight": "normal", "titleColor": "black", "titlePadding": 13}},
        "detail": {"field": "s"}
      }
    },
    {
      "data": {"name": "L"},
      "mark": {"type": "line", "opacity": 0},
      "encoding": {
        "x": {"field": "q", "type": "quantitative", "scale": {"domain": [1.5, 3.793], "nice": false, "zero": false},
          "axis": {"orient": "top", "values": [1.5,1.6,1.7,1.8,1.9,2.0,2.1,2.2,2.3,2.4,2.5,2.6,2.7,2.8,2.9,3.0,3.1,3.2,3.3,3.4,3.5,3.6,3.7],
            "domain": false, "grid": false, "labels": false, "tickColor": "black", "tickWidth": 2,
            "tickSize": {"condition": {"test": "abs(datum.value*2-round(datum.value*2))<0.001", "value": -15}, "value": -10},
            "title": null}},
        "y": {"field": "i", "type": "quantitative", "scale": {"domain": [0, 559], "nice": false, "zero": false}, "axis": null},
        "detail": {"field": "s"}
      }
    },
    {
      "data": {"name": "ti"},
      "mark": {"type": "text", "fontSize": 22, "align": "center", "baseline": "middle"},
      "encoding": {
        "x": {"field": "q", "type": "quantitative", "scale": {"domain": [1.5, 3.793], "nice": false, "zero": false}, "axis": null},
        "y": {"field": "i", "type": "quantitative", "scale": {"domain": [0, 559], "nice": false, "zero": false}, "axis": null},
        "text": {"field": "t"}
      }
    },
    {
      "data": {"name": "ev"},
      "mark": {"type": "text", "fontSize": 20, "align": "left", "baseline": "middle"},
      "encoding": {
        "x": {"field": "q", "type": "quantitative", "scale": {"domain": [1.5, 3.793], "nice": false, "zero": false}, "axis": null},
        "y": {"field": "i", "type": "quantitative", "scale": {"domain": [0, 559], "nice": false, "zero": false}, "axis": null},
        "text": {"field": "t"}
      }
    },
    {
      "data": {"name": "rot"},
      "mark": {"type": "text", "fontSize": 22, "align": "center", "baseline": "middle", "angle": 270},
      "encoding": {
        "x": {"field": "q", "type": "quantitative", "scale": {"domain": [1.5, 3.793], "nice": false, "zero": false}, "axis": null},
        "y": {"field": "i", "type": "quantitative", "scale": {"domain": [0, 559], "nice": false, "zero": false}, "axis": null},
        "text": {"field": "t"}
      }
    },
    {
      "data": {"values": [{"t": "left"}]},
      "mark": {"type": "rule", "color": "black", "strokeWidth": 2},
      "encoding": {
        "x": {"datum": 0.53547, "type": "quantitative", "scale": {"domain": [1.5, 3.793], "nice": false, "zero": false}, "axis": null},
        "y": {"datum": 583, "type": "quantitative", "scale": {"domain": [0, 559], "nice": false, "zero": false}, "axis": null},
        "y2": {"datum": -285}
      }
    },
    {
      "data": {"values": [{"t": "right"}]},
      "mark": {"type": "rule", "color": "black", "strokeWidth": 2},
      "encoding": {
        "x": {"datum": 5.00834, "type": "quantitative", "scale": {"domain": [1.5, 3.793], "nice": false, "zero": false}, "axis": null},
        "y": {"datum": 583, "type": "quantitative", "scale": {"domain": [0, 559], "nice": false, "zero": false}, "axis": null},
        "y2": {"datum": -285}
      }
    },
    {
      "data": {"values": [{"t": "top"}]},
      "mark": {"type": "rule", "color": "black", "strokeWidth": 2},
      "encoding": {
        "x": {"datum": 0.53547, "type": "quantitative", "scale": {"domain": [1.5, 3.793], "nice": false, "zero": false}, "axis": null},
        "x2": {"datum": 5.00834},
        "y": {"datum": 583, "type": "quantitative", "scale": {"domain": [0, 559], "nice": false, "zero": false}, "axis": null}
      }
    },
    {
      "data": {"values": [{"t": "Figure 2.1.6."}]},
      "mark": {"type": "text", "font": "Liberation Serif", "fontStyle": "italic", "fontWeight": "bold", "fontSize": 29, "align": "right", "baseline": "middle"},
      "encoding": {
        "x": {"datum": 1.4134, "type": "quantitative", "scale": {"domain": [1.5, 3.793], "nice": false, "zero": false}, "axis": null},
        "y": {"datum": -137, "type": "quantitative", "scale": {"domain": [0, 559], "nice": false, "zero": false}, "axis": null},
        "text": {"field": "t"}
      }
    },
    {
      "data": {"values": [{"t": "Powder diffraction patterns of oxyapatite/hydroxyapatite coatings on titanium"}]},
      "mark": {"type": "text", "font": "Liberation Serif", "fontStyle": "italic", "fontSize": 29, "align": "left", "baseline": "middle", "dx": 7},
      "encoding": {
        "x": {"datum": 1.4134, "type": "quantitative", "scale": {"domain": [1.5, 3.793], "nice": false, "zero": false}, "axis": null},
        "y": {"datum": -137, "type": "quantitative", "scale": {"domain": [0, 559], "nice": false, "zero": false}, "axis": null},
        "text": {"field": "t"}
      }
    },
    {
      "data": {"values": [{"t": "substrate collected using different radiation energies showing the importance of high-energy"}]},
      "mark": {"type": "text", "font": "Liberation Serif", "fontStyle": "italic", "fontSize": 29, "align": "center", "baseline": "middle"},
      "encoding": {
        "x": {"datum": 2.7578, "type": "quantitative", "scale": {"domain": [1.5, 3.793], "nice": false, "zero": false}, "axis": null},
        "y": {"datum": -182, "type": "quantitative", "scale": {"domain": [0, 559], "nice": false, "zero": false}, "axis": null},
        "text": {"field": "t"}
      }
    },
    {
      "data": {"values": [{"t": "radiation for tuning the penetration depth. (7e)"}]},
      "mark": {"type": "text", "font": "Liberation Serif", "fontStyle": "italic", "fontSize": 29, "align": "center", "baseline": "middle"},
      "encoding": {
        "x": {"datum": 2.7578, "type": "quantitative", "scale": {"domain": [1.5, 3.793], "nice": false, "zero": false}, "axis": null},
        "y": {"datum": -227, "type": "quantitative", "scale": {"domain": [0, 559], "nice": false, "zero": false}, "axis": null},
        "text": {"field": "t"}
      }
    }
  ]
},
{
  "width": 116, "height": 559,
  "resolve": {"axis": {"x": "independent", "y": "independent"}},
  "layer": [
    {
      "data": {"name": "R"},
      "mark": {"type": "line", "color": "#1a1a1a", "strokeWidth": 1.7},
      "encoding": {
        "x": {"field": "q", "type": "quantitative", "scale": {"domain": [1.78, 1.84], "nice": false, "zero": false},
          "axis": {"orient": "bottom", "values": [1.8, 1.82, 1.84], "domain": false, "grid": false, "tickColor": "black", "tickWidth": 2, "tickSize": -10,
            "labelExpr": "abs(datum.value-1.82)<0.001 ? '' : format(datum.value,'.2f')",
            "labelFontSize": 22, "labelColor": "black", "labelPadding": 23, "labelFlush": false, "labelOverlap": false, "labelBound": false, "title": null}},
        "y": {"field": "i", "type": "quantitative", "scale": {"domain": [0, 559], "nice": false, "zero": false}, "axis": null},
        "detail": {"field": "s"}
      }
    },
    {
      "data": {"name": "R"},
      "mark": {"type": "line", "opacity": 0},
      "encoding": {
        "x": {"field": "q", "type": "quantitative", "scale": {"domain": [1.78, 1.84], "nice": false, "zero": false},
          "axis": {"orient": "top", "values": [1.8, 1.82], "domain": false, "grid": false, "labels": false, "tickColor": "black", "tickWidth": 2, "tickSize": -15, "title": null}},
        "y": {"field": "i", "type": "quantitative", "scale": {"domain": [0, 559], "nice": false, "zero": false}, "axis": null},
        "detail": {"field": "s"}
      }
    },
    {
      "data": {"name": "ar"},
      "mark": {"type": "rule", "color": "black", "strokeWidth": 1.8},
      "encoding": {
        "x": {"field": "q", "type": "quantitative", "scale": {"domain": [1.78, 1.84], "nice": false, "zero": false}, "axis": null},
        "y": {"field": "i", "type": "quantitative", "scale": {"domain": [0, 559], "nice": false, "zero": false}, "axis": null},
        "x2": {"field": "q2"},
        "y2": {"field": "i2"}
      }
    },
    {
      "data": {"name": "ar"},
      "transform": [{"filter": "datum.k === 'OAp'"}],
      "mark": {"type": "point", "shape": "M-0.35,-1L0.35,-1L0,0Z", "filled": true, "color": "black", "opacity": 1, "size": 400, "angle": 346},
      "encoding": {
        "x": {"field": "q2", "type": "quantitative", "scale": {"domain": [1.78, 1.84], "nice": false, "zero": false}, "axis": null},
        "y": {"field": "i2", "type": "quantitative", "scale": {"domain": [0, 559], "nice": false, "zero": false}, "axis": null}
      }
    },
    {
      "data": {"name": "ar"},
      "transform": [{"filter": "datum.k === 'HAp'"}],
      "mark": {"type": "point", "shape": "M-0.35,-1L0.35,-1L0,0Z", "filled": true, "color": "black", "opacity": 1, "size": 400},
      "encoding": {
        "x": {"field": "q2", "type": "quantitative", "scale": {"domain": [1.78, 1.84], "nice": false, "zero": false}, "axis": null},
        "y": {"field": "i2", "type": "quantitative", "scale": {"domain": [0, 559], "nice": false, "zero": false}, "axis": null}
      }
    },
    {
      "data": {"name": "rr"},
      "mark": {"type": "text", "fontSize": 21, "align": "center", "baseline": "middle", "angle": 270},
      "encoding": {
        "x": {"field": "q", "type": "quantitative", "scale": {"domain": [1.78, 1.84], "nice": false, "zero": false}, "axis": null},
        "y": {"field": "i", "type": "quantitative", "scale": {"domain": [0, 559], "nice": false, "zero": false}, "axis": null},
        "text": {"field": "t"}
      }
    }
  ]
}
]
}
